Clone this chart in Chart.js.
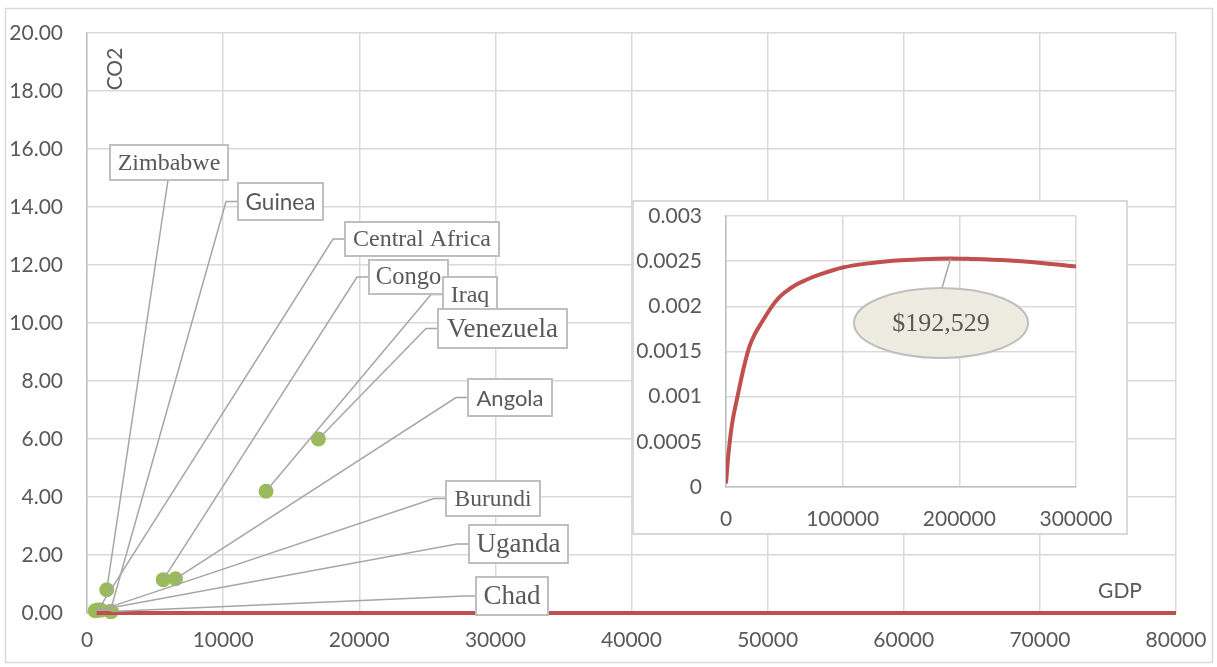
<!DOCTYPE html>
<html>
<head>
<meta charset="utf-8">
<script src="https://cdn.jsdelivr.net/npm/chart.js@4.4.1/dist/chart.umd.min.js"></script>
<style>
  html, body { margin: 0; padding: 0; background: #fff; }
  #wrap { position: relative; width: 1217px; height: 667px; overflow: hidden; }
  #main { position: absolute; left: 0; top: 0; }
  #inset { position: absolute; left: 632px; top: 200px; }
</style>
</head>
<body>
<div id="wrap">
  <canvas id="main" width="1217" height="667"></canvas>
  <canvas id="inset" width="496" height="335"></canvas>
</div>
<script>
// Country observations: GDP per capita vs CO2 emissions
const countries = ['Zimbabwe', 'Guinea', 'Central Africa', 'Congo', 'Iraq', 'Venezuela', 'Angola', 'Burundi', 'Uganda', 'Chad'];
const gdpValues = [1450, 1700, 800, 5600, 13150, 17000, 6500, 1000, 600, 1800];
const co2Values = [0.80, 0.05, 0.10, 1.15, 4.20, 6.00, 1.18, 0.10, 0.08, 0.05];

// Fitted curve (Kuznets-type relationship)
const fitGdp = [0, 700, 2000, 5000, 10000, 15000, 20000, 25000, 30000, 40000, 45000, 50000, 60000, 70000, 80000, 100000, 125000, 150000, 175000, 192529, 210000, 240000, 270000, 300000];
const fitCo2 = [0.00004, 0.00015, 0.00035, 0.00068, 0.00101, 0.00131, 0.00155, 0.0017, 0.00181, 0.00201, 0.00209, 0.00215, 0.00224, 0.0023, 0.00235, 0.00243, 0.00248, 0.00251, 0.002525, 0.00253, 0.002525, 0.00251, 0.00248, 0.00244];
const turningPointGdp = 192529;
const turningPointLabel = '$192,529';

// Axis ranges and ticks
const mainXTicks = [0, 10000, 20000, 30000, 40000, 50000, 60000, 70000, 80000];
const mainYTicks = [0, 2, 4, 6, 8, 10, 12, 14, 16, 18, 20];
const insetXTicks = [0, 100000, 200000, 300000];
const insetYTicks = [0, 0.0005, 0.001, 0.0015, 0.002, 0.0025, 0.003];
const mainRangeStart = 700;

// Callout box layout (pixels), one per country, same order as countries
const calloutLayout = [
  { left: 110, top: 145, w: 118, h: 35, font: 'serif', size: 24,   anchor: 'bottom' },
  { left: 238, top: 183, w: 85,  h: 37, font: 'sans',  size: 22.5, anchor: 'left' },
  { left: 345, top: 222, w: 154, h: 34, font: 'serif', size: 24,   anchor: 'left' },
  { left: 369, top: 260, w: 79,  h: 34, font: 'serif', size: 24.5, anchor: 'left' },
  { left: 443, top: 277, w: 54,  h: 35, font: 'serif', size: 24,   anchor: 'left' },
  { left: 438, top: 309, w: 129, h: 39, font: 'serif', size: 27,   anchor: 'left' },
  { left: 468, top: 379, w: 84,  h: 37, font: 'sans',  size: 22,   anchor: 'left' },
  { left: 446, top: 481, w: 94,  h: 35, font: 'serif', size: 23.5, anchor: 'left' },
  { left: 469, top: 525, w: 99,  h: 38, font: 'serif', size: 27,   anchor: 'left' },
  { left: 476, top: 577, w: 72,  h: 38, font: 'serif', size: 27,   anchor: 'left' }
];

const SANS = 'Lato, "Open Sans", sans-serif';
const SERIF = '"Liberation Serif", "DejaVu Serif", serif';
const TEXT = '#595959';
const GRID = '#d9d9d9';
const AXIS = '#bfbfbf';
const RED = '#c0504d';
const GREEN = '#9bbb59';
const LEADER = '#a6a6a6';
const TICK_SIZE = 21;

const scatterPoints = countries.map((c, i) => ({ x: gdpValues[i], y: co2Values[i] }));
const fitPoints = fitGdp.map((g, i) => ({ x: g, y: fitCo2[i] }));
const mainFitPoints = fitPoints.filter(p => p.x >= mainRangeStart && p.x <= mainXTicks[mainXTicks.length - 1]);

function fixedTicks(values) {
  return function (scale) { scale.ticks = values.map(v => ({ value: v })); };
}
// fixed axis band size; label overhang is absorbed by the layout padding
function fixedSize(prop, size) {
  return function (scale) {
    scale[prop] = size;
    scale.paddingTop = scale.paddingBottom = scale.paddingLeft = scale.paddingRight = 0;
  };
}

// Frame, axis titles, leader lines and callout boxes on the main chart
const mainDecor = {
  id: 'mainDecor',
  beforeDraw(chart) {
    const ctx = chart.ctx;
    ctx.save();
    ctx.fillStyle = '#fff';
    ctx.fillRect(0, 0, chart.width, chart.height);
    ctx.strokeStyle = GRID;
    ctx.lineWidth = 1.5;
    ctx.strokeRect(5.5, 8.5, 1207, 654);
    ctx.restore();
  },
  afterDatasetsDraw(chart) {
    const ctx = chart.ctx;
    const xs = chart.scales.x, ys = chart.scales.y;
    ctx.save();
    // axis titles
    ctx.fillStyle = TEXT;
    ctx.font = '21px ' + SANS;
    ctx.textAlign = 'center';
    ctx.textBaseline = 'middle';
    ctx.fillText('GDP', 1120, 591);
    ctx.save();
    ctx.translate(115, 69);
    ctx.rotate(-Math.PI / 2);
    ctx.fillText('CO2', 0, 0);
    ctx.restore();

    // leader lines
    ctx.strokeStyle = LEADER;
    ctx.lineWidth = 1.5;
    countries.forEach((c, i) => {
      const L = calloutLayout[i];
      const px = xs.getPixelForValue(gdpValues[i]);
      const py = ys.getPixelForValue(co2Values[i]);
      ctx.beginPath();
      if (L.anchor === 'bottom') {
        const bx = L.left + L.w / 2 - 1;
        ctx.moveTo(bx, L.top + L.h);
        ctx.lineTo(px, py);
      } else {
        const by = L.top + L.h / 2;
        ctx.moveTo(L.left, by);
        ctx.lineTo(L.left - 12, by);
        ctx.lineTo(px, py);
      }
      ctx.stroke();
    });

    // callout boxes
    countries.forEach((c, i) => {
      const L = calloutLayout[i];
      ctx.fillStyle = '#fff';
      ctx.fillRect(L.left, L.top, L.w, L.h);
      ctx.strokeStyle = AXIS;
      ctx.lineWidth = 2;
      ctx.strokeRect(L.left, L.top, L.w, L.h);
      ctx.fillStyle = TEXT;
      ctx.font = L.size + 'px ' + (L.font === 'serif' ? SERIF : SANS);
      ctx.textAlign = 'center';
      ctx.textBaseline = 'middle';
      ctx.fillText(c, L.left + L.w / 2, L.top + L.h / 2 + 1);
    });
    ctx.restore();
  }
};

new Chart(document.getElementById('main'), {
  type: 'scatter',
  data: {
    datasets: [
      {
        type: 'line',
        label: 'Fit',
        data: mainFitPoints,
        borderColor: RED,
        borderWidth: 4,
        pointRadius: 0,
        fill: false,
        cubicInterpolationMode: 'monotone',
        order: 0,
        clip: 4
      },
      {
        label: 'Countries',
        data: scatterPoints,
        backgroundColor: GREEN,
        borderColor: GREEN,
        borderWidth: 0,
        pointRadius: 7.5,
        order: 1,
        clip: false
      }
    ]
  },
  options: {
    responsive: false,
    animation: false,
    events: [],
    layout: { autoPadding: false, padding: { left: 0, top: 33, right: 41, bottom: 0 } },
    plugins: { legend: { display: false }, tooltip: { enabled: false } },
    scales: {
      x: {
        type: 'linear',
        min: mainXTicks[0],
        max: mainXTicks[mainXTicks.length - 1],
        afterBuildTicks: fixedTicks(mainXTicks),
        afterFit: fixedSize('height', 54),
        grid: { color: GRID, lineWidth: 1.5, drawTicks: false },
        border: { color: AXIS, width: 1.5 },
        ticks: { color: TEXT, font: { family: SANS, size: TICK_SIZE }, padding: 15, maxRotation: 0, autoSkip: false, callback: v => String(v) }
      },
      y: {
        type: 'linear',
        min: mainYTicks[0],
        max: mainYTicks[mainYTicks.length - 1],
        afterBuildTicks: fixedTicks(mainYTicks),
        afterFit: fixedSize('width', 87),
        grid: { color: GRID, lineWidth: 1.5, drawTicks: false },
        border: { color: AXIS, width: 1.5 },
        ticks: {
          color: TEXT, font: { family: SANS, size: TICK_SIZE }, padding: 24, autoSkip: false,
          callback: v => Number(v).toFixed(2)
        }
      }
    }
  },
  plugins: [mainDecor]
});

// Inset: full fitted curve with turning point callout
const ellipseLayout = { cx: 309, cy: 123, rx: 87, ry: 35 };

const insetDecor = {
  id: 'insetDecor',
  beforeDraw(chart) {
    const ctx = chart.ctx;
    ctx.save();
    ctx.fillStyle = '#fff';
    ctx.fillRect(0, 0, chart.width, chart.height);
    ctx.strokeStyle = GRID;
    ctx.lineWidth = 2;
    ctx.strokeRect(1, 1, chart.width - 2, chart.height - 2);
    ctx.restore();
  },
  afterDatasetsDraw(chart) {
    const ctx = chart.ctx;
    const xs = chart.scales.x, ys = chart.scales.y;
    const idx = fitGdp.indexOf(turningPointGdp);
    const px = xs.getPixelForValue(turningPointGdp);
    const py = ys.getPixelForValue(fitCo2[idx]);
    const E = ellipseLayout;
    ctx.save();
    ctx.strokeStyle = LEADER;
    ctx.lineWidth = 1.5;
    ctx.beginPath();
    ctx.moveTo(E.cx + 1, E.cy - E.ry);
    ctx.lineTo(px, py);
    ctx.stroke();
    ctx.beginPath();
    ctx.ellipse(E.cx, E.cy, E.rx, E.ry, 0, 0, Math.PI * 2);
    ctx.fillStyle = '#eeece1';
    ctx.fill();
    ctx.strokeStyle = AXIS;
    ctx.lineWidth = 2;
    ctx.stroke();
    ctx.fillStyle = TEXT;
    ctx.font = '26px ' + SERIF;
    ctx.textAlign = 'center';
    ctx.textBaseline = 'middle';
    ctx.fillText(turningPointLabel, E.cx, E.cy + 1);
    ctx.restore();
  }
};

new Chart(document.getElementById('inset'), {
  type: 'line',
  data: {
    datasets: [{
      label: 'Fit',
      data: fitPoints,
      borderColor: RED,
      borderWidth: 4,
      pointRadius: 0,
      fill: false,
      cubicInterpolationMode: 'monotone'
    }]
  },
  options: {
    responsive: false,
    animation: false,
    events: [],
    layout: { autoPadding: false, padding: { left: 0, top: 16, right: 52, bottom: 0 } },
    plugins: { legend: { display: false }, tooltip: { enabled: false } },
    scales: {
      x: {
        type: 'linear',
        min: insetXTicks[0],
        max: insetXTicks[insetXTicks.length - 1],
        afterBuildTicks: fixedTicks(insetXTicks),
        afterFit: fixedSize('height', 48),
        grid: { color: GRID, lineWidth: 1.5, drawTicks: false },
        border: { color: AXIS, width: 1.5 },
        ticks: { color: TEXT, font: { family: SANS, size: TICK_SIZE }, padding: 20, maxRotation: 0, autoSkip: false, callback: v => String(v) }
      },
      y: {
        type: 'linear',
        min: insetYTicks[0],
        max: insetYTicks[insetYTicks.length - 1],
        afterBuildTicks: fixedTicks(insetYTicks),
        afterFit: fixedSize('width', 94),
        grid: { color: GRID, lineWidth: 1.5, drawTicks: false },
        border: { color: AXIS, width: 1.5 },
        ticks: { color: TEXT, font: { family: SANS, size: TICK_SIZE }, padding: 24, autoSkip: false, callback: v => String(v) }
      }
    }
  },
  plugins: [insetDecor]
});
</script>
</body>
</html>
